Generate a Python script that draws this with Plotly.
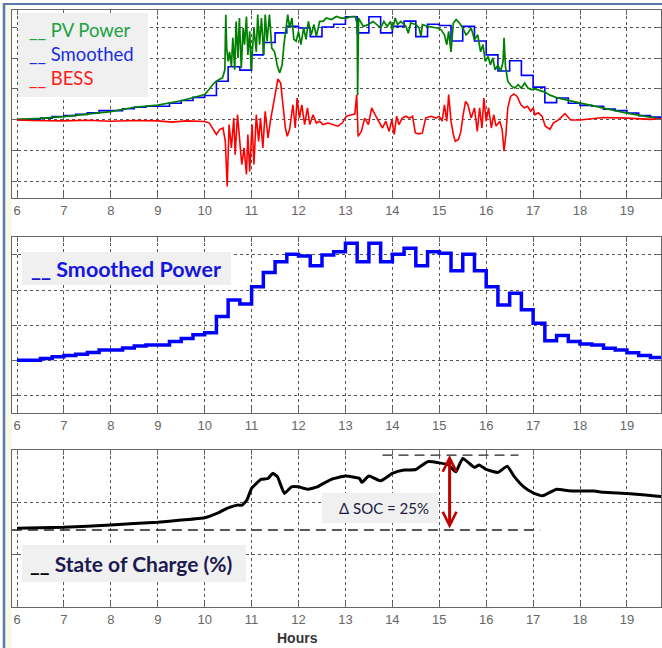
import plotly.graph_objects as go

# ---------------- data ----------------
hour_ticks = list(range(6, 20))

# 15-minute smoothed power (same units as PV / BESS)
smooth_t = [6.0, 6.25, 6.5, 6.75, 7.0, 7.25, 7.5, 7.75, 8.0, 8.25, 8.5, 8.75,
            9.0, 9.25, 9.5, 9.75, 10.0, 10.25, 10.5, 10.75, 11.0, 11.25, 11.5, 11.75,
            12.0, 12.25, 12.5, 12.75, 13.0, 13.25, 13.5, 13.75, 14.0, 14.25, 14.5, 14.75,
            15.0, 15.25, 15.5, 15.75, 16.0, 16.25, 16.5, 16.75, 17.0, 17.25, 17.5, 17.75,
            18.0, 18.25, 18.5, 18.75, 19.0, 19.25, 19.5, 19.75]
smooth_p = [0.01, 0.01, 0.06, 0.11, 0.14, 0.18, 0.23, 0.30, 0.30, 0.36, 0.41, 0.44,
            0.44, 0.54, 0.63, 0.73, 0.79, 1.25, 1.72, 1.61, 2.10, 2.50, 2.81, 3.02,
            2.97, 2.69, 3.00, 3.09, 3.33, 2.81, 3.33, 2.81, 3.02, 3.19, 2.69, 3.09,
            3.05, 2.55, 3.02, 2.55, 2.10, 1.58, 1.91, 1.44, 1.06, 0.56, 0.71, 0.54,
            0.47, 0.44, 0.35, 0.30, 0.22, 0.14, 0.09, 0.09]

pv_t = [6.0, 6.5, 7.0, 7.5, 8.0, 8.5, 9.0, 9.5, 9.8, 10.0, 10.1, 10.2, 10.3, 10.38,
        10.43, 10.45, 10.47, 10.5, 10.53, 10.57, 10.6, 10.64, 10.67, 10.71, 10.74,
        10.78, 10.82, 10.85, 10.89, 10.92, 10.96, 10.99, 11.05, 11.1, 11.13, 11.17,
        11.21, 11.26, 11.29, 11.33, 11.38, 11.43, 11.49, 11.55, 11.6, 11.65, 11.69,
        11.74, 11.77, 11.81, 11.86, 11.9, 11.95, 12.0, 12.05, 12.11, 12.16, 12.21,
        12.27, 12.33, 12.38, 12.45, 12.52, 12.59, 12.7, 12.81, 12.91, 13.02, 13.13,
        13.21, 13.25, 13.26, 13.28, 13.38, 13.49, 13.59, 13.68, 13.75, 13.82, 13.89,
        13.96, 14.0, 14.06, 14.11, 14.18, 14.29, 14.34, 14.39, 14.5, 14.57, 14.61,
        14.64, 14.75, 14.86, 14.96, 15.04, 15.11, 15.16, 15.2, 15.25, 15.3, 15.36,
        15.43, 15.5, 15.57, 15.61, 15.64, 15.68, 15.75, 15.82, 15.88, 15.93, 15.98,
        16.04, 16.09, 16.14, 16.19, 16.25, 16.31, 16.36, 16.38, 16.41, 16.46, 16.54,
        16.61, 16.68, 16.75, 16.82, 16.89, 16.96, 17.04, 17.14, 17.25, 17.36, 17.5,
        17.75, 18.0, 18.5, 19.0, 19.5, 19.75]
pv_p = [0.02, 0.05, 0.11, 0.19, 0.27, 0.41, 0.48, 0.62, 0.73, 0.82, 1.0, 1.19, 1.3, 1.36,
        1.62, 3.4, 2.3, 1.89, 2.2, 1.73, 2.65, 1.62, 3.18, 2.0, 3.29,
        1.68, 2.97, 2.43, 3.34, 2.1, 2.86, 1.62, 2.97, 2.2, 3.4, 2.43,
        3.29, 2.1, 3.4, 2.54, 3.4, 2.32, 2.2, 1.73, 1.52, 1.78, 2.43,
        3.18, 3.4, 2.97, 3.29, 2.6, 2.54, 2.86, 2.43, 2.97, 2.6, 3.18,
        2.75, 3.08, 2.7, 3.18, 3.18, 3.29, 3.24, 3.34, 3.29, 3.29, 3.34,
        3.34, 3.1, 0.8, 3.29, 3.02, 3.08, 3.18, 3.05, 2.97, 3.18, 3.02,
        3.18, 2.91, 3.29, 3.08, 3.18, 3.02, 2.8, 3.13, 3.08, 2.97, 2.7,
        3.08, 3.02, 2.99, 2.97, 2.91, 2.75, 2.43, 2.86, 2.2, 3.13, 3.24,
        3.13, 2.97, 2.75, 2.8, 2.86, 2.97, 2.59, 2.75, 2.2, 2.43, 1.89,
        2.05, 1.78, 2.0, 1.62, 1.78, 1.57, 1.89, 2.65, 1.73, 1.25, 1.09,
        1.03, 1.14, 1.03, 1.19, 1.03, 0.98, 1.0, 0.95, 0.9, 0.8, 0.72,
        0.63, 0.54, 0.38, 0.22, 0.07, 0.02]

bess_t = [6.0, 6.3, 7.0, 7.5, 8.0, 8.5, 9.0, 9.3, 9.6, 9.8, 10.0, 10.1, 10.18, 10.25,
          10.32, 10.39, 10.44, 10.48, 10.52, 10.57, 10.62, 10.65, 10.7, 10.74, 10.79,
          10.84, 10.89, 10.92, 10.96, 11.01, 11.05, 11.1, 11.15, 11.19, 11.24, 11.29,
          11.35, 11.4, 11.45, 11.5, 11.56, 11.62, 11.67, 11.72, 11.76, 11.81, 11.88,
          11.93, 11.97, 12.02, 12.07, 12.13, 12.19, 12.24, 12.31, 12.38, 12.45, 12.52,
          12.63, 12.74, 12.84, 12.93, 13.02, 13.13, 13.2, 13.24, 13.27, 13.34, 13.41,
          13.49, 13.56, 13.63, 13.71, 13.79, 13.86, 13.93, 13.99, 14.04, 14.09, 14.14,
          14.21, 14.29, 14.36, 14.43, 14.49, 14.57, 14.64, 14.71, 14.82, 14.93, 15.0,
          15.06, 15.11, 15.16, 15.2, 15.25, 15.3, 15.34, 15.41, 15.46, 15.51, 15.56,
          15.61, 15.68, 15.75, 15.81, 15.86, 15.91, 15.95, 16.0, 16.05, 16.11, 16.16,
          16.21, 16.29, 16.34, 16.38, 16.42, 16.46, 16.52, 16.59, 16.66, 16.74, 16.81,
          16.88, 16.95, 17.0, 17.04, 17.11, 17.19, 17.26, 17.36, 17.43, 17.54, 17.68,
          17.8, 18.0, 18.5, 19.0, 19.5, 19.75]
bess_p = [0.0, -0.02, -0.03, -0.01, -0.04, -0.02, -0.03, -0.07, -0.03, -0.04, -0.05, -0.1, -0.28, -0.47,
          -0.31, -0.26, -0.69, -2.15, -0.15, -0.9, 0.06, -1.12, 0.17, -0.69, -1.44,
          -0.9, -1.76, -0.47, -1.66, -0.15, -1.44, 0.17, -0.69, 0.06, -0.9, 0.28,
          -0.58, -0.04, 0.39, 0.92, 1.32, 1.19, 0.49, -0.26, -0.53, -0.3, 0.49,
          -0.26, 0.71, 0.06, 0.49, -0.15, 0.39, -0.15, 0.17, -0.1, -0.04, -0.15,
          -0.1, -0.15, -0.2, -0.1, 0.12, 0.17, 0.19, 0.82, -0.53, -0.37, 0.06,
          -0.15, 0.39, 0.17, -0.04, -0.26, -0.04, -0.37, 0.01, -0.47, 0.12, -0.15,
          0.06, 0.12, 0.06, 0.12, -0.42, -0.45, -0.42, 0.06, 0.12, 0.06, 0.12,
          -0.04, 0.49, -0.04, 0.82, -0.04, -0.47, -0.69, -0.63, -0.37, 0.17, 0.6,
          0.49, 0.06, 0.39, -0.37, 0.39, -0.26, 0.71, -0.04, 0.39, -0.26, 0.17,
          -0.2, -0.04, -0.31, -1.01, -0.47, 0.39, 0.76, 0.84, 0.76, 0.49, 0.39,
          0.44, 0.28, 0.39, 0.17, 0.23, 0.12, -0.2, -0.3, -0.1, 0.0, 0.2,
          0.0, 0.0, 0.08, 0.06, 0.02, 0.04]

soc_t = [6.0, 7.0, 8.0, 9.0, 9.5, 10.0, 10.3, 10.5, 10.7, 10.8, 10.9, 11.0, 11.2, 11.35,
         11.45, 11.55, 11.7, 11.85, 12.0, 12.2, 12.4, 12.6, 12.7, 13.0, 13.3, 13.35, 13.5,
         13.75, 14.0, 14.25, 14.5, 14.75, 15.0, 15.2, 15.35, 15.5, 15.75, 15.85, 16.0,
         16.25, 16.45, 16.6, 16.8, 17.0, 17.2, 17.5, 17.75, 18.0, 18.3, 18.5, 19.0, 19.4, 19.75]
soc_v = [50.6, 50.9, 51.7, 52.6, 53.3, 54.1, 55.8, 57.4, 58.3, 58.3, 60.0, 63.9, 66.9, 67.2,
         68.9, 67.8, 62.2, 64.4, 64.4, 63.6, 64.4, 66.1, 66.9, 68.0, 67.2, 65.9, 68.0,
         66.4, 68.9, 70.0, 70.2, 72.8, 72.4, 71.7, 69.4, 73.9, 70.9, 71.7, 70.2,
         69.2, 71.3, 67.8, 64.4, 62.4, 61.4, 63.6, 63.1, 63.0, 63.0, 62.6, 62.2, 61.7, 61.1]

soc_levels = [50, 75]            # ΔSOC band (low, high) in %
soc_low_span = [5.89, 17.15]     # hours covered by the low dashed guide
soc_high_span = [13.79, 16.69]   # hours covered by the high dashed guide
soc_arrow_hour = 15.22

# ---------------- layout helpers ----------------
W, H = 662, 648
ML, MR = 12, 1
PW = W - ML - MR


def px_x(px):
    return (px - ML) / PW


def px_y(py):
    return 1 - py / H


XR = [6 - 5 / 46.92, 6 - 5 / 46.92 + PW / 46.92]
FRAME = "#666666"
GRID = "#555555"
TICKFONT = dict(family="Liberation Sans, Arial, sans-serif", size=13, color="#666666")

fig = go.Figure()

# top panel
fig.add_trace(go.Scatter(x=smooth_t, y=smooth_p, mode="lines", line=dict(color="#0000ff", width=1.6, shape="hv"),
                         xaxis="x", yaxis="y", showlegend=False))
fig.add_trace(go.Scatter(x=pv_t, y=pv_p, mode="lines", line=dict(color="#008000", width=1.7),
                         xaxis="x", yaxis="y", showlegend=False))
fig.add_trace(go.Scatter(x=bess_t, y=bess_p, mode="lines", line=dict(color="#ff0000", width=1.6),
                         xaxis="x", yaxis="y", showlegend=False))
# middle panel
fig.add_trace(go.Scatter(x=smooth_t, y=smooth_p, mode="lines", line=dict(color="#0000ff", width=3.5, shape="hv"),
                         xaxis="x2", yaxis="y2", showlegend=False))
# bottom panel
fig.add_trace(go.Scatter(x=soc_t, y=soc_v, mode="lines", line=dict(color="#000000", width=3, shape="spline", smoothing=0.4),
                         xaxis="x3", yaxis="y3", showlegend=False))


def xaxis(anchor):
    return dict(domain=[0, 1], anchor=anchor, range=XR, tickvals=hour_ticks, ticks="inside", ticklen=5,
                tickcolor=FRAME, showline=True, linecolor=FRAME, linewidth=1, mirror="ticks",
                showgrid=True, gridcolor=GRID, griddash="dot", gridwidth=1, zeroline=False,
                tickfont=TICKFONT)


def yaxis(anchor, dom, rng, tick0, dtick):
    return dict(domain=dom, anchor=anchor, range=rng, tick0=tick0, dtick=dtick, ticks="inside", ticklen=5,
                tickcolor=FRAME, showline=True, linecolor=FRAME, linewidth=1, mirror="ticks",
                showgrid=True, gridcolor=GRID, griddash="dot", gridwidth=1, zeroline=False,
                showticklabels=False)


soc_dt = (76.7 - 24.3) / 3
fig.update_layout(
    width=W, height=H, margin=dict(l=ML, r=MR, t=0, b=0),
    paper_bgcolor="white", plot_bgcolor="white",
    xaxis=xaxis("y"), xaxis2=xaxis("y2"), xaxis3=xaxis("y3"),
    yaxis=yaxis("x", [px_y(198), px_y(10)], [-2.52, 3.55], 0, 1),
    yaxis2=yaxis("x2", [px_y(413), px_y(237)], [-1.49, 3.51], 0, 1),
    yaxis3=yaxis("x3", [px_y(607), px_y(450)], [24.3, 76.7], 24.3, soc_dt),
)

shapes = []
# cream strip and blue border on the left, blue line on top
shapes.append(dict(type="rect", xref="paper", yref="paper", x0=px_x(4), x1=px_x(11.5), y0=0, y1=px_y(4),
                   fillcolor="#f8f8e6", line=dict(width=0), layer="below"))
shapes.append(dict(type="line", xref="paper", yref="paper", x0=px_x(4), x1=px_x(4), y0=0, y1=px_y(3),
                   line=dict(color="#5a78a8", width=2.5)))
shapes.append(dict(type="line", xref="paper", yref="paper", x0=px_x(3), x1=px_x(662), y0=px_y(4), y1=px_y(4),
                   line=dict(color="#5a78a8", width=2)))
# label boxes
for (x0, x1, y0, y1) in [(18, 148, 13, 97), (22, 231, 252, 285), (22, 246, 545, 582), (322, 438, 493, 523)]:
    shapes.append(dict(type="rect", xref="paper", yref="paper", x0=px_x(x0), x1=px_x(x1), y0=px_y(y1), y1=px_y(y0),
                       fillcolor="#f0f0f0", line=dict(width=0), layer="above"))
# ΔSOC dashed guides
shapes.append(dict(type="line", xref="x3", yref="y3", x0=soc_low_span[0], x1=soc_low_span[1],
                   y0=soc_levels[0], y1=soc_levels[0], line=dict(color="#222222", width=1.3, dash="10px,6px")))
shapes.append(dict(type="line", xref="x3", yref="y3", x0=soc_high_span[0], x1=soc_high_span[1],
                   y0=soc_levels[1], y1=soc_levels[1], line=dict(color="#222222", width=1.3, dash="10px,6px")))
fig.update_layout(shapes=shapes)

LAB = "Lato, 'Open Sans', sans-serif"
ann = []


def label(text, x, y, size, color, bold=False):
    ann.append(dict(xref="paper", yref="paper", x=px_x(x), y=px_y(y), xanchor="left", yanchor="middle",
                    text=("<b>%s</b>" % text) if bold else text, showarrow=False,
                    font=dict(family=LAB, size=size, color=color)))


label("__ PV Power", 27, 30, 18.5, "#20a040")
label("__ Smoothed", 27, 54, 18.5, "#1a2ee0")
label("__ BESS", 27, 78, 18.5, "#ff1a1a")
label("__ Smoothed Power", 29, 269, 21.5, "#1515e0", bold=True)
label("<span style='color:#000000'>__</span> State of Charge (%)", 28, 563, 21, "#1a1a50", bold=True)
label("Δ SOC = 25%", 337, 508, 15, "#1a1a40")
ann.append(dict(xref="paper", yref="paper", x=px_x(297), y=px_y(638), xanchor="center", yanchor="middle",
                text="<b>Hours</b>", showarrow=False,
                font=dict(family="Liberation Sans, Arial, sans-serif", size=14, color="#333333")))
# ΔSOC double arrow
ann.append(dict(xref="x3", yref="y3", axref="x3", ayref="y3", x=soc_arrow_hour, y=soc_levels[1],
                ax=soc_arrow_hour, ay=soc_levels[0], text="", showarrow=True, arrowside="end+start",
                arrowhead=5, startarrowhead=5, arrowsize=0.9, startarrowsize=0.9, arrowwidth=3,
                arrowcolor="#c00000", standoff=0, startstandoff=0))
fig.update_layout(annotations=ann)

fig.write_html("out.html", config={"displayModeBar": False},
               post_script="document.body.style.margin='0';document.body.style.overflow='hidden';")
